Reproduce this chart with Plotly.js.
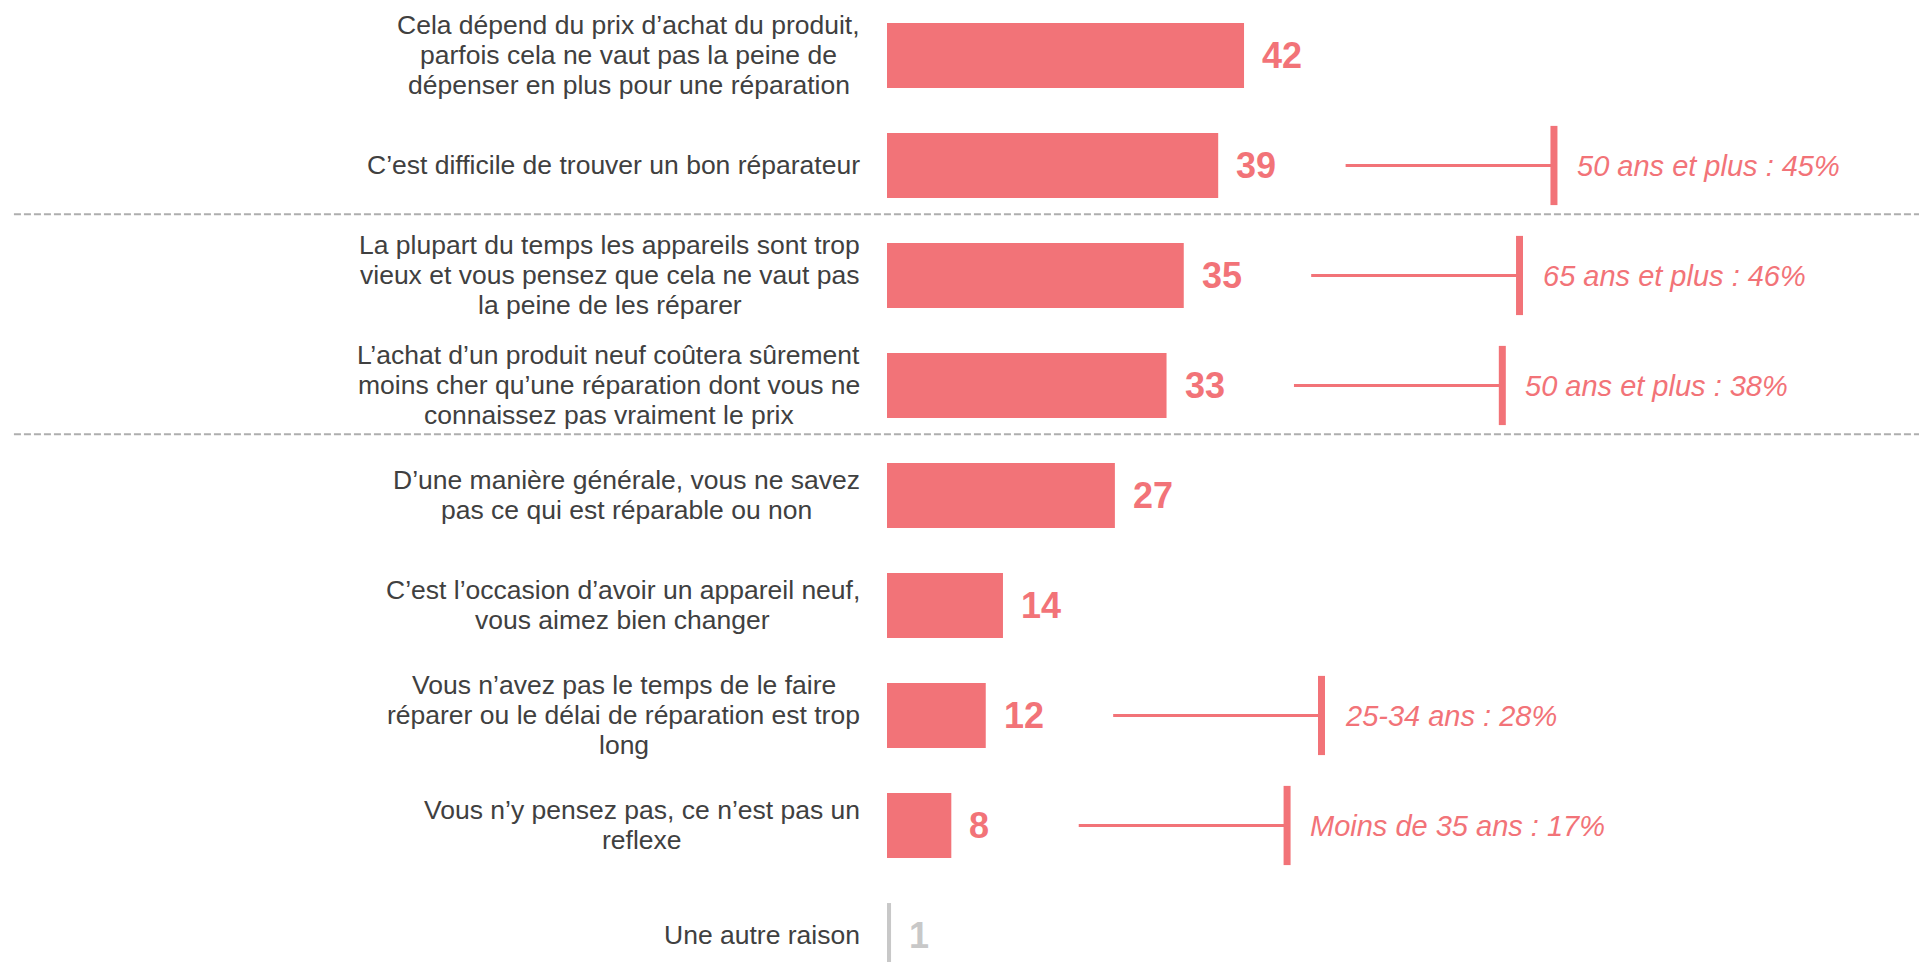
<!DOCTYPE html>
<html>
<head>
<meta charset="utf-8">
<script src="https://cdn.plot.ly/plotly-3.0.1.min.js"></script>
<style>
  html, body { margin: 0; padding: 0; background: #fff; }
  #chart { width: 1919px; height: 962px; }
</style>
</head>
<body>
<div id="chart"></div>
<script>
const reasons = [
    "Cela dépend du prix d’achat du produit,<br>parfois cela ne vaut pas la peine de<br>dépenser en plus pour une réparation",
    "C’est difficile de trouver un bon réparateur",
    "La plupart du temps les appareils sont trop<br>vieux et vous pensez que cela ne vaut pas<br>la peine de les réparer",
    "L’achat d’un produit neuf coûtera sûrement<br>moins cher qu’une réparation dont vous ne<br>connaissez pas vraiment le prix",
    "D’une manière générale, vous ne savez<br>pas ce qui est réparable ou non",
    "C’est l’occasion d’avoir un appareil neuf,<br>vous aimez bien changer",
    "Vous n’avez pas le temps de le faire<br>réparer ou le délai de réparation est trop<br>long",
    "Vous n’y pensez pas, ce n’est pas un<br>reflexe",
    "Une autre raison"
];
const scores = [42, 39, 35, 33, 27, 14, 12, 8, 1];

// rows that carry a sub-group call-out, and its text
const calloutRows = [1, 2, 3, 6, 7];
const calloutTexts = [
    "50 ans et plus : 45%",
    "65 ans et plus : 46%",
    "50 ans et plus : 38%",
    "25-34 ans : 28%",
    "Moins de 35 ans : 17%"
];

// dashed separators come after these rows
const groupEnds = [1, 3];

const RED = "#F27378";
const GREY = "#C8C8C8";
const TEXT = "#404040";
const FONT = "Arial, 'Liberation Sans', sans-serif";
const LABEL_SIZE = 26.5;
const LABEL_LINE = 30;

const rows = reasons.map((_, i) => i);
const barColors = reasons.map((r, i) => i === reasons.length - 1 ? GREY : RED);

// measure label lines so a multi-line label can be centred as a block
const ctx = document.createElement("canvas").getContext("2d");
ctx.font = LABEL_SIZE + "px " + FONT;

const annotations = [];
const shapes = [];

rows.forEach(i => {
    const lines = reasons[i].split("<br>");
    const blockW = Math.max(...lines.map(l => ctx.measureText(l).width));
    lines.forEach((line, k) => {
        annotations.push({
            text: line,
            xref: "paper", yref: "y",
            x: 0, y: i,
            xanchor: "center", yanchor: "middle",
            xshift: -27 - blockW / 2,
            yshift: ((lines.length - 1) / 2 - k) * LABEL_LINE,
            showarrow: false,
            font: { family: FONT, size: LABEL_SIZE, color: TEXT }
        });
    });
    annotations.push({
        text: "<b>" + scores[i] + "</b>",
        xref: "x", yref: "y",
        x: scores[i], y: i,
        xanchor: "left", yanchor: "middle",
        xshift: 16,
        showarrow: false,
        font: { family: FONT, size: 36, color: barColors[i] }
    });
});

calloutRows.forEach((row, k) => {
    const v = scores[row];
    const tick = v + 39;
    shapes.push({
        type: "line", xref: "x", yref: "y",
        x0: tick - 24.2, x1: tick, y0: row, y1: row,
        line: { color: RED, width: 3 }
    });
    shapes.push({
        type: "line", xref: "x", yref: "y",
        x0: tick, x1: tick, y0: row - 0.36, y1: row + 0.36,
        line: { color: RED, width: 7 }
    });
    annotations.push({
        text: "<i>" + calloutTexts[k] + "</i>",
        xref: "x", yref: "y",
        x: tick, y: row,
        xanchor: "left", yanchor: "middle",
        xshift: 21, yshift: -1,
        showarrow: false,
        font: { family: FONT, size: 29, color: RED }
    });
});

groupEnds.forEach(row => {
    shapes.push({
        type: "line", xref: "paper", yref: "y",
        x0: -0.846, x1: 1, y0: row + 0.444, y1: row + 0.444,
        line: { color: "#AEAEAE", width: 2, dash: "7px,3px" }
    });
});

Plotly.newPlot("chart", [{
    type: "bar",
    orientation: "h",
    x: scores,
    y: rows,
    width: 0.59,
    marker: { color: barColors },
    hoverinfo: "skip"
}], {
    width: 1919,
    height: 962,
    margin: { l: 887, r: 0, t: 0, b: 0 },
    paper_bgcolor: "#fff",
    plot_bgcolor: "#fff",
    showlegend: false,
    xaxis: {
        range: [0.53, 120.4],
        visible: false,
        fixedrange: true
    },
    yaxis: {
        range: [8.241, -0.5045],
        visible: false,
        fixedrange: true
    },
    shapes: shapes,
    annotations: annotations
}, { displayModeBar: false, staticPlot: true });
</script>
</body>
</html>
